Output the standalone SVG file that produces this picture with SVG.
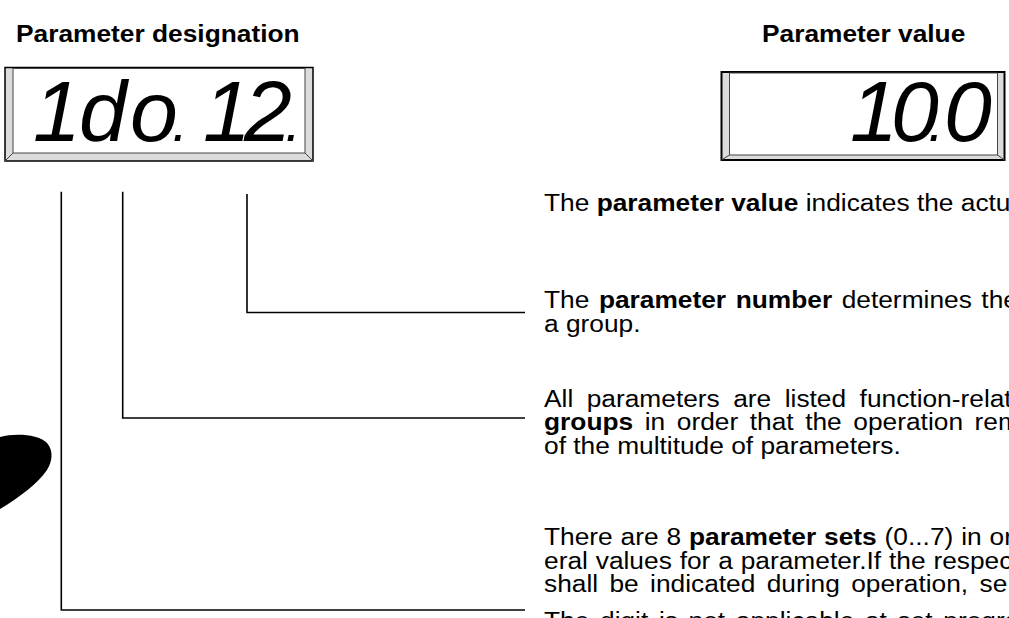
<svg xmlns="http://www.w3.org/2000/svg" width="1009" height="618" viewBox="0 0 1009 618">
  <style>
    .txt { font-family: "Liberation Sans", Arial, sans-serif; font-size: 23.5px; fill: #000; }
    .b { font-weight: bold; }
    .seg { font-family: "Liberation Sans", Arial, sans-serif; font-style: italic; font-size: 86px; fill: #000; text-anchor: middle; }
    .dp { font-size: 56px; }
    .bezel { fill: #dcdcdc; stroke: #000; }
    .glass { fill: #fff; stroke: #444; stroke-width: 1; }
    .edge { stroke: #444; stroke-width: 1; fill: none; }
    .conn { stroke: #000; stroke-width: 1.6; fill: none; }
  </style>

  <rect width="1009" height="618" fill="#fff"/>

  <!-- headings (type set slightly wide) -->
  <g id="headings" class="txt b">
    <text transform="translate(16 41.7) scale(1.12 1)">Parameter designation</text>
    <text transform="translate(762 41.7) scale(1.12 1)">Parameter value</text>
  </g>

  <!-- designation display -->
  <g id="display-designation">
    <rect class="bezel" stroke-width="1.5" x="5" y="67.5" width="308" height="93.5"/>
    <rect class="glass" x="13" y="68.5" width="292" height="84.5"/>
    <path class="edge" d="M13 153 L5 161 M305 153 L313 161"/>
    <text class="seg" y="141"><tspan x="57">1</tspan><tspan class="dp" x="68">.</tspan><tspan x="103">d</tspan><tspan x="154">o</tspan><tspan class="dp" x="180">.</tspan><tspan x="227">1</tspan><tspan x="268">2</tspan><tspan class="dp" x="293">.</tspan></text>
  </g>

  <!-- value display -->
  <g id="display-value">
    <rect class="bezel" stroke-width="2" x="721.5" y="72" width="283" height="88"/>
    <rect class="glass" x="729.5" y="73" width="268" height="82"/>
    <path class="edge" d="M729.5 155 L721.5 160 M997.5 155 L1004.5 160"/>
    <text class="seg" y="141"><tspan x="874">1</tspan><tspan x="915">0</tspan><tspan class="dp" x="936">.</tspan><tspan x="968">0</tspan></text>
  </g>

  <!-- black mark at left edge -->
  <path id="mark" d="M0 437 C15 433 38 434 47 443 C54 451 52 462 47 470 C38 483 20 497 0 509 Z" fill="#000"/>

  <!-- leader lines -->
  <g id="connectors">
    <path class="conn" d="M247 194 V312.5 H525"/>
    <path class="conn" d="M122.7 191.7 V418 H525"/>
    <path class="conn" d="M61.3 191.7 V610 H525"/>
  </g>

  <!-- descriptions -->
  <g id="desc-value" class="txt">
    <text transform="translate(544 210.5) scale(1.12 1)">The <tspan class="b">parameter value</tspan> indicates the actu</text>
  </g>
  <g id="desc-number" class="txt">
    <text transform="translate(544 308) scale(1.12 1)" word-spacing="2">The <tspan class="b">parameter number</tspan> determines the</text>
    <text transform="translate(544 331.5) scale(1.12 1)">a group.</text>
  </g>
  <g id="desc-groups" class="txt">
    <text transform="translate(544 406.5) scale(1.12 1)" word-spacing="5.5">All parameters are listed function-relat</text>
    <text transform="translate(544 430) scale(1.12 1)" word-spacing="3.8"><tspan class="b">groups</tspan> in order that the operation rem</text>
    <text transform="translate(544 453.5) scale(1.12 1)">of the multitude of parameters.</text>
  </g>
  <g id="desc-sets" class="txt">
    <text transform="translate(544 545) scale(1.12 1)" word-spacing="0.5">There are 8 <tspan class="b">parameter sets</tspan> (0...7) in or</text>
    <text transform="translate(544 568.5) scale(1.12 1)" word-spacing="0.5">eral values for a parameter.If the respec</text>
    <text transform="translate(544 592) scale(1.12 1)" word-spacing="3.6">shall be indicated during operation, se</text>
    <text transform="translate(544 629) scale(1.12 1)" word-spacing="3">The digit is not applicable at set program</text>
  </g>
</svg>
